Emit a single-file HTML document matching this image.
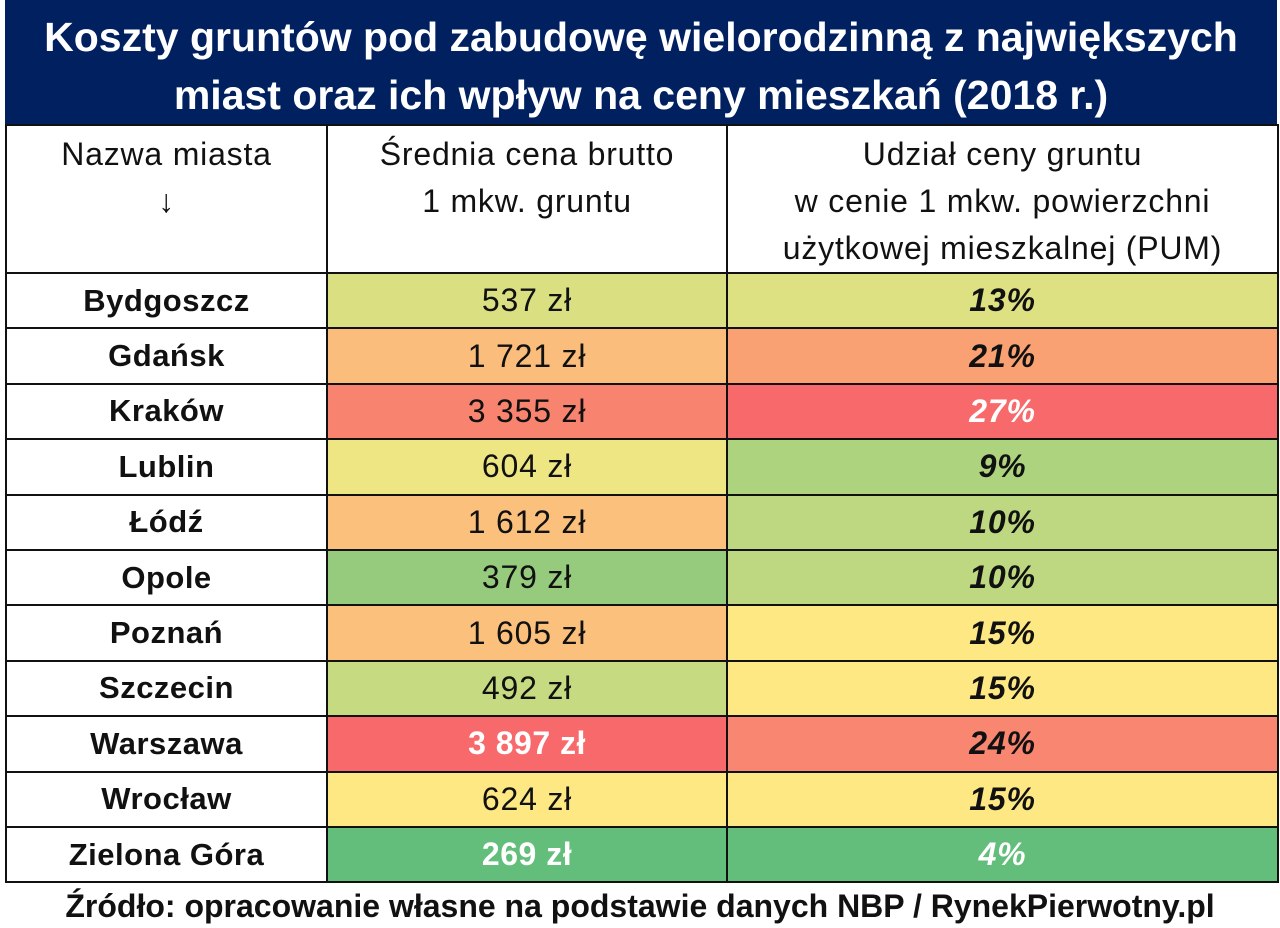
<!DOCTYPE html>
<html><head><meta charset="utf-8"><style>
body{margin:0;width:1280px;height:928px;background:#fff;font-family:"Liberation Sans","DejaVu Sans",sans-serif;position:relative;overflow:hidden}
.title{position:absolute;left:5px;top:0;width:1272px;height:124px;background:#002060;color:#fff;font-weight:bold;font-size:41px;text-align:center;line-height:58px;padding-top:8px;box-sizing:border-box;white-space:nowrap}
table{position:absolute;left:5px;top:124px;width:1272px;border-collapse:collapse;table-layout:fixed}
td{border:2px solid #111;text-align:center;font-size:32px;letter-spacing:0.8px;color:#111;padding:0}
tr{height:55.4px}
tr.h{height:146px}
tr.h td{vertical-align:top;line-height:47px;padding-top:5px;font-size:32px}
td.c{font-weight:bold;font-size:31px;letter-spacing:0.5px}
td.p{font-weight:bold;font-style:italic}
.w{color:#fff}
.src{position:absolute;left:0;width:1280px;top:888px;text-align:center;font-weight:bold;font-size:32px;color:#111}
</style></head><body>
<div class="title">Koszty gruntów pod zabudowę wielorodzinną z największych<br>miast oraz ich wpływ na ceny mieszkań (2018 r.)</div>
<table>
<colgroup><col style="width:321px"><col style="width:400px"><col style="width:551px"></colgroup>
<tr class="h"><td>Nazwa miasta<br>↓</td><td>Średnia cena brutto<br>1 mkw. gruntu</td><td>Udział ceny gruntu<br>w cenie 1 mkw. powierzchni<br>użytkowej mieszkalnej (PUM)</td></tr>
<tr><td class="c">Bydgoszcz</td><td style="background:#dadf82">537 zł</td><td class="p" style="background:#dde182">13%</td></tr>
<tr><td class="c">Gdańsk</td><td style="background:#fbbd7b">1 721 zł</td><td class="p" style="background:#f9a173">21%</td></tr>
<tr><td class="c">Kraków</td><td style="background:#f8836f">3 355 zł</td><td class="p w" style="background:#f8696b">27%</td></tr>
<tr><td class="c">Lublin</td><td style="background:#eee683">604 zł</td><td class="p" style="background:#aed37f">9%</td></tr>
<tr><td class="c">Łódź</td><td style="background:#fbc07c">1 612 zł</td><td class="p" style="background:#bdd881">10%</td></tr>
<tr><td class="c">Opole</td><td style="background:#96cb7d">379 zł</td><td class="p" style="background:#bdd881">10%</td></tr>
<tr><td class="c">Poznań</td><td style="background:#fbc17c">1 605 zł</td><td class="p" style="background:#fee883">15%</td></tr>
<tr><td class="c">Szczecin</td><td style="background:#c6da81">492 zł</td><td class="p" style="background:#fee883">15%</td></tr>
<tr><td class="c">Warszawa</td><td class="c w" style="background:#f8696b;font-size:32px">3 897 zł</td><td class="p" style="background:#f98670">24%</td></tr>
<tr><td class="c">Wrocław</td><td style="background:#fde883">624 zł</td><td class="p" style="background:#fee883">15%</td></tr>
<tr><td class="c">Zielona Góra</td><td class="c w" style="background:#63be7b;font-size:32px">269 zł</td><td class="p w" style="background:#63be7b">4%</td></tr>
</table>
<div class="src">Źródło: opracowanie własne na podstawie danych NBP / RynekPierwotny.pl</div>
</body></html>
